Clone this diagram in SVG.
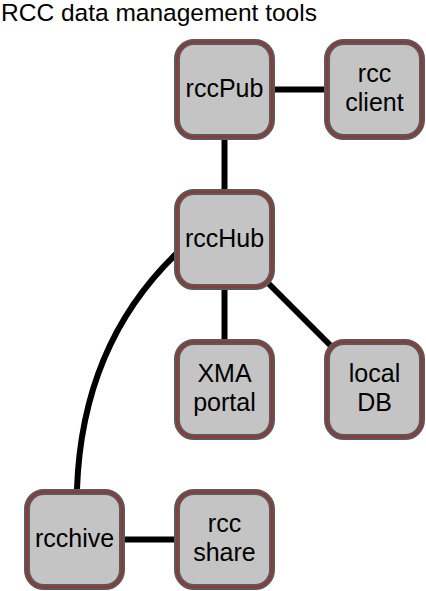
<svg xmlns="http://www.w3.org/2000/svg" width="426" height="591" viewBox="0 0 426 591">
<defs>
<style>
.box{fill:#c4c4c4;stroke:#5a5a5a;stroke-width:6}
.ring{fill:none;stroke:#943634;stroke-width:2}
.lbl{font-family:"Liberation Sans",Arial,sans-serif;font-size:25px;fill:#000;text-anchor:middle}
.title{font-family:"Liberation Sans",Arial,sans-serif;font-size:24.5px;fill:#000}
.edge{fill:none;stroke:#000;stroke-width:6}
</style>
</defs>
<rect width="426" height="591" fill="#fff"/>
<text class="title" x="1" y="21">RCC data management tools</text>
<g id="connectors">
<path class="edge" d="M275,89.5 H324"/>
<path class="edge" d="M224.5,140 V189"/>
<path class="edge" d="M224.5,290 V339"/>
<path class="edge" d="M266,281 L333,348"/>
<path class="edge" d="M125,539.5 H174"/>
<path class="edge" d="M176,254 Q82,345 77,489"/>
</g>
<g id="rccPub">
<rect class="box" x="177" y="42" width="95" height="95" rx="17"/>
<rect class="ring" x="177" y="42" width="95" height="95" rx="17"/>
<text class="lbl" x="224.5" y="96.5">rccPub</text>
</g>
<g id="rccClient">
<rect class="box" x="327" y="42" width="95" height="95" rx="17"/>
<rect class="ring" x="327" y="42" width="95" height="95" rx="17"/>
<text class="lbl" x="374.5" y="82">rcc</text>
<text class="lbl" x="374.5" y="111">client</text>
</g>
<g id="rccHub">
<rect class="box" x="177" y="192" width="95" height="95" rx="17"/>
<rect class="ring" x="177" y="192" width="95" height="95" rx="17"/>
<text class="lbl" x="224.5" y="246.5">rccHub</text>
</g>
<g id="xmaPortal">
<rect class="box" x="177" y="342" width="95" height="95" rx="17"/>
<rect class="ring" x="177" y="342" width="95" height="95" rx="17"/>
<text class="lbl" x="224.5" y="382">XMA</text>
<text class="lbl" x="224.5" y="411">portal</text>
</g>
<g id="localDB">
<rect class="box" x="327" y="342" width="95" height="95" rx="17"/>
<rect class="ring" x="327" y="342" width="95" height="95" rx="17"/>
<text class="lbl" x="374.5" y="382">local</text>
<text class="lbl" x="374.5" y="411">DB</text>
</g>
<g id="rcchive">
<rect class="box" x="27" y="492" width="95" height="95" rx="17"/>
<rect class="ring" x="27" y="492" width="95" height="95" rx="17"/>
<text class="lbl" x="74.5" y="546.5">rcchive</text>
</g>
<g id="rccShare">
<rect class="box" x="177" y="492" width="95" height="95" rx="17"/>
<rect class="ring" x="177" y="492" width="95" height="95" rx="17"/>
<text class="lbl" x="224.5" y="532">rcc</text>
<text class="lbl" x="224.5" y="561">share</text>
</g>
</svg>
